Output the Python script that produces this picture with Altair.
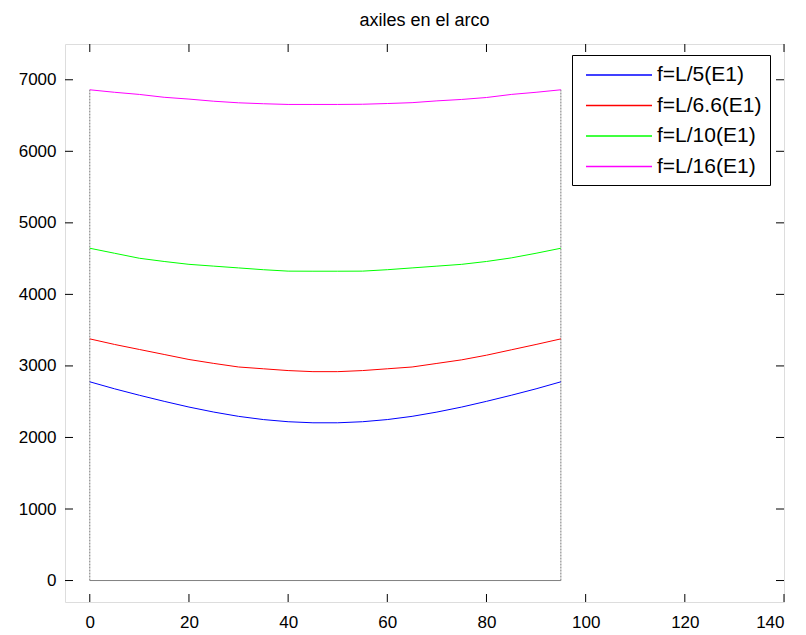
import altair as alt
import pandas as pd

# Station positions along the arch
x_pos = [0, 5, 10, 15, 20, 25, 30, 35, 40, 45, 50, 55, 60, 65, 70, 75, 80, 85, 90, 95]

# Axial force in the arch for each rise ratio
axil_L5 = [2778, 2680, 2590, 2505, 2425, 2355, 2295, 2250, 2220, 2205,
           2205, 2220, 2250, 2295, 2355, 2425, 2505, 2590, 2680, 2778]
axil_L66 = [3378, 3300, 3230, 3160, 3090, 3035, 2985, 2960, 2935, 2920,
            2920, 2935, 2960, 2985, 3035, 3085, 3150, 3225, 3300, 3378]
axil_L10 = [4645, 4575, 4505, 4460, 4420, 4395, 4370, 4345, 4325, 4324,
            4324, 4325, 4345, 4370, 4395, 4420, 4460, 4510, 4575, 4645]
axil_L16 = [6860, 6825, 6795, 6755, 6730, 6700, 6678, 6665, 6655, 6655,
            6655, 6658, 6668, 6680, 6705, 6725, 6752, 6795, 6825, 6860]

series_names = ["f=L/5(E1)", "f=L/6.6(E1)", "f=L/10(E1)", "f=L/16(E1)"]
series_colors = ["#0000ff", "#ff0000", "#00ff00", "#ff00ff"]

# Outline of the span: supports and base line
support_x = [0, 95]
support_bottom = [0, 0]
support_top = [6860, 6860]
base_x = [0]
base_x2 = [95]
base_y = [0]

x_ticks = [0, 20, 40, 60, 80, 100, 120, 140]
y_ticks = [0, 1000, 2000, 3000, 4000, 5000, 6000, 7000]
x_domain = [-5, 140]
y_domain = [-300, 7500]

W, H = 719, 558
TICK = 8
FONT = "Liberation Sans"

rows = []
for name, vals in zip(series_names, [axil_L5, axil_L66, axil_L10, axil_L16]):
    for xv, yv in zip(x_pos, vals):
        rows.append({"x": xv, "N": yv, "serie": name})
df = pd.DataFrame(rows)

xs = alt.Scale(domain=x_domain, nice=False, zero=False)
ys = alt.Scale(domain=y_domain, nice=False, zero=False)

lines = alt.Chart(df).mark_line(strokeWidth=1).encode(
    x=alt.X("x:Q", scale=xs, title=None,
            axis=alt.Axis(values=x_ticks, format="d", ticks=False, domain=False,
                          grid=False, labelFontSize=17, labelFont=FONT,
                          labelColor="black", labelPadding=12)),
    y=alt.Y("N:Q", scale=ys, title=None,
            axis=alt.Axis(values=y_ticks, format="d", ticks=False, domain=False,
                          grid=False, labelFontSize=17, labelFont=FONT,
                          labelColor="black", labelPadding=9)),
    color=alt.Color("serie:N", sort=series_names,
                    scale=alt.Scale(domain=series_names, range=series_colors),
                    legend=alt.Legend(
                        title=None, orient="none", legendX=507, legendY=11,
                        symbolType="M-3,0H3", symbolSize=484, symbolStrokeWidth=1.5,
                        symbolOffset=27, labelOffset=26, rowPadding=8.5,
                        padding=8, labelFontSize=21, labelFont=FONT,
                        labelColor="black", strokeColor="black", fillColor="white",
                        cornerRadius=0)),
)

supports = alt.Chart(pd.DataFrame({"x": support_x, "b": support_bottom, "top": support_top})).mark_rule(
    color="#777777", strokeWidth=1, strokeDash=[2, 1]
).encode(x=alt.X("x:Q", scale=xs), y=alt.Y("b:Q", scale=ys), y2="top:Q")

base = alt.Chart(pd.DataFrame({"x": base_x, "x2": base_x2, "y": base_y})).mark_rule(
    color="#808080", strokeWidth=1
).encode(x=alt.X("x:Q", scale=xs), x2="x2:Q", y=alt.Y("y:Q", scale=ys))

xt = pd.DataFrame({"t": x_ticks})
yt = pd.DataFrame({"t": y_ticks})
tick_bottom = alt.Chart(xt).mark_rule(color="black").encode(
    x=alt.X("t:Q", scale=xs), y=alt.value(H), y2=alt.value(H - TICK))
tick_top = alt.Chart(xt).mark_rule(color="black").encode(
    x=alt.X("t:Q", scale=xs), y=alt.value(0), y2=alt.value(TICK))
tick_left = alt.Chart(yt).mark_rule(color="black").encode(
    y=alt.Y("t:Q", scale=ys), x=alt.value(0), x2=alt.value(TICK))
tick_right = alt.Chart(yt).mark_rule(color="black").encode(
    y=alt.Y("t:Q", scale=ys), x=alt.value(W), x2=alt.value(W - TICK))

chart = alt.layer(
    base, supports, lines, tick_bottom, tick_top, tick_left, tick_right
).properties(
    width=W, height=H,
    title=alt.Title("axiles en el arco", fontSize=18, fontWeight="normal",
                    font=FONT, color="black", offset=14),
    autosize=alt.AutoSizeParams(type="none"),
    padding={"left": 65, "top": 44, "right": 22, "bottom": 33},
).configure_view(
    stroke="black", strokeWidth=1
).configure(background="white")

chart.save("out.html", embed_options={"renderer": "svg", "actions": False})
